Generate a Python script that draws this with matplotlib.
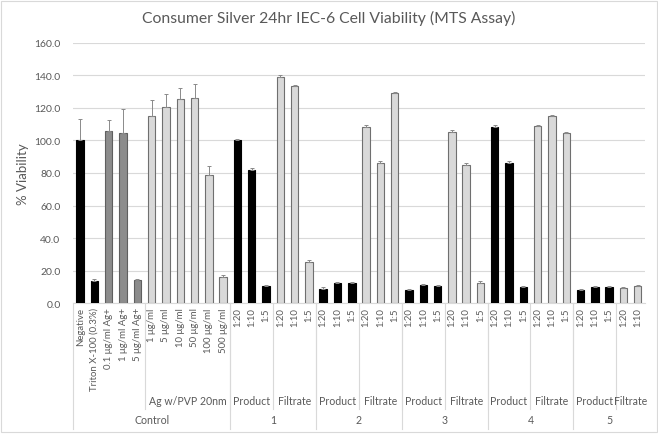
"""
Consumer Silver 24hr IEC-6 细胞活力 (MTS) 柱状图
"""

import matplotlib
matplotlib.use("Agg")
import matplotlib.pyplot as plt
import matplotlib.transforms as mtransforms
import numpy as np

matplotlib.rcParams["font.family"] = ["Lato", "DejaVu Sans"]

# 数据
tick_labels = [
    "Negative", "Triton X-100 (0.3%)", "0.1 μg/ml Ag+", "1 μg/ml Ag+", "5 μg/ml Ag+",
    "1 μg/ml", "5 μg/ml", "10 μg/ml", "50 μg/ml", "100 μg/ml", "500 μg/ml",
    "1:20", "1:10", "1:5", "1:20", "1:10", "1:5",
    "1:20", "1:10", "1:5", "1:20", "1:10", "1:5",
    "1:20", "1:10", "1:5", "1:20", "1:10", "1:5",
    "1:20", "1:10", "1:5", "1:20", "1:10", "1:5",
    "1:20", "1:10", "1:5", "1:20", "1:10",
]
viability = [
    100.0, 13.7, 105.8, 104.6, 14.3,
    114.8, 120.7, 125.8, 126.2, 78.8, 16.2,
    100.0, 82.0, 10.6, 139.2, 133.4, 25.4,
    8.8, 12.3, 12.3, 108.5, 86.4, 129.3,
    8.0, 11.2, 10.6, 105.4, 85.1, 12.5,
    108.5, 86.4, 10.0, 108.9, 115.0, 104.4,
    8.0, 10.0, 9.7, 9.2, 10.6,
]
errors = [
    13.0, 1.0, 6.5, 15.0, 0.8,
    10.0, 7.8, 6.5, 8.5, 5.5, 0.8,
    0.8, 0.8, 0.8, 0.8, 0.8, 0.8,
    0.8, 0.8, 0.8, 0.8, 0.8, 0.8,
    0.8, 0.8, 0.8, 0.8, 0.8, 0.8,
    0.8, 0.8, 0.8, 0.8, 0.8, 0.8,
    0.8, 0.8, 0.8, 0.8, 0.8,
]
# 柱子类型: k=黑, d=深灰, l=浅灰
bar_kind = (
    ["k", "k", "d", "d", "d"] + ["l"] * 6
    + (["k"] * 3 + ["l"] * 3) * 4
    + ["k"] * 3 + ["l"] * 2
)
# 二级分组 (名称, 起, 止)
sub_groups = [
    ("", 0, 4), ("Ag w/PVP 20nm", 5, 10),
    ("Product", 11, 13), ("Filtrate", 14, 16),
    ("Product", 17, 19), ("Filtrate", 20, 22),
    ("Product", 23, 25), ("Filtrate", 26, 28),
    ("Product", 29, 31), ("Filtrate", 32, 34),
    ("Product", 35, 37), ("Filtrate", 38, 39),
]
main_groups = [
    ("Control", 0, 10), ("1", 11, 16), ("2", 17, 22),
    ("3", 23, 28), ("4", 29, 34), ("5", 35, 39),
]

face = {"k": "#000000", "d": "#8c8c8c", "l": "#d9d9d9"}
edge = {"k": "#000000", "d": "#5f5f5f", "l": "#6f6f6f"}
text_gray = "#595959"
line_gray = "#d9d9d9"

fig = plt.figure(figsize=(6.58, 4.35), dpi=100)
ax = fig.add_axes([0.111, 0.301, 0.869, 0.598])

x = np.arange(len(viability))
ax.bar(x, viability, width=0.52,
       color=[face[k] for k in bar_kind],
       edgecolor=[edge[k] for k in bar_kind],
       linewidth=0.8, zorder=3)
ax.errorbar(x, viability, yerr=[np.zeros(len(errors)), errors], fmt="none",
            ecolor="#8a8a8a", elinewidth=0.7, capsize=1.6, capthick=0.7, zorder=4)

ax.set_xlim(-0.5, len(viability) - 0.5)
ax.set_ylim(0, 160)
ax.set_yticks(np.arange(0, 161, 20))
ax.set_yticklabels([f"{v:.1f}" for v in np.arange(0, 161, 20)])
ax.tick_params(axis="y", length=0, labelsize=7.5, labelcolor=text_gray, pad=9)
ax.grid(axis="y", color=line_gray, linewidth=0.8, zorder=0)
for side in ["left", "right", "top"]:
    ax.spines[side].set_visible(False)
ax.spines["bottom"].set_color(line_gray)

ax.set_xticks(x)
ax.set_xticklabels(tick_labels, rotation=90, va="top", ha="center")
ax.tick_params(axis="x", length=0, labelsize=6.9, labelcolor=text_gray, pad=3)

ax.set_ylabel("% Viability", fontsize=9.5, color=text_gray, labelpad=4)
fig.suptitle("Consumer Silver 24hr IEC-6 Cell Viability (MTS Assay)",
             fontsize=11.3, color=text_gray, y=0.975)

# 多级类别标签
trans = mtransforms.blended_transform_factory(ax.transData, ax.transAxes)
for name, a, b in sub_groups:
    ax.text((a + b) / 2, -0.376, name, transform=trans, ha="center", va="center",
            fontsize=7.6, color=text_gray)
for name, a, b in main_groups:
    ax.text((a + b) / 2, -0.449, name, transform=trans, ha="center", va="center",
            fontsize=7.6, color=text_gray)

for name, a, b in sub_groups[1:]:
    ax.plot([a - 0.5, a - 0.5], [0, -0.407], transform=trans, color=line_gray,
            linewidth=0.8, clip_on=False)
for name, a, b in main_groups:
    ax.plot([a - 0.5, a - 0.5], [0, -0.484], transform=trans, color=line_gray,
            linewidth=0.8, clip_on=False)

# 图表外框
fig.patches.append(plt.Rectangle((0.002, 0.004), 0.996, 0.992, transform=fig.transFigure,
                                 fill=False, edgecolor=line_gray, linewidth=0.8))

fig.savefig("out.png", dpi=100)
